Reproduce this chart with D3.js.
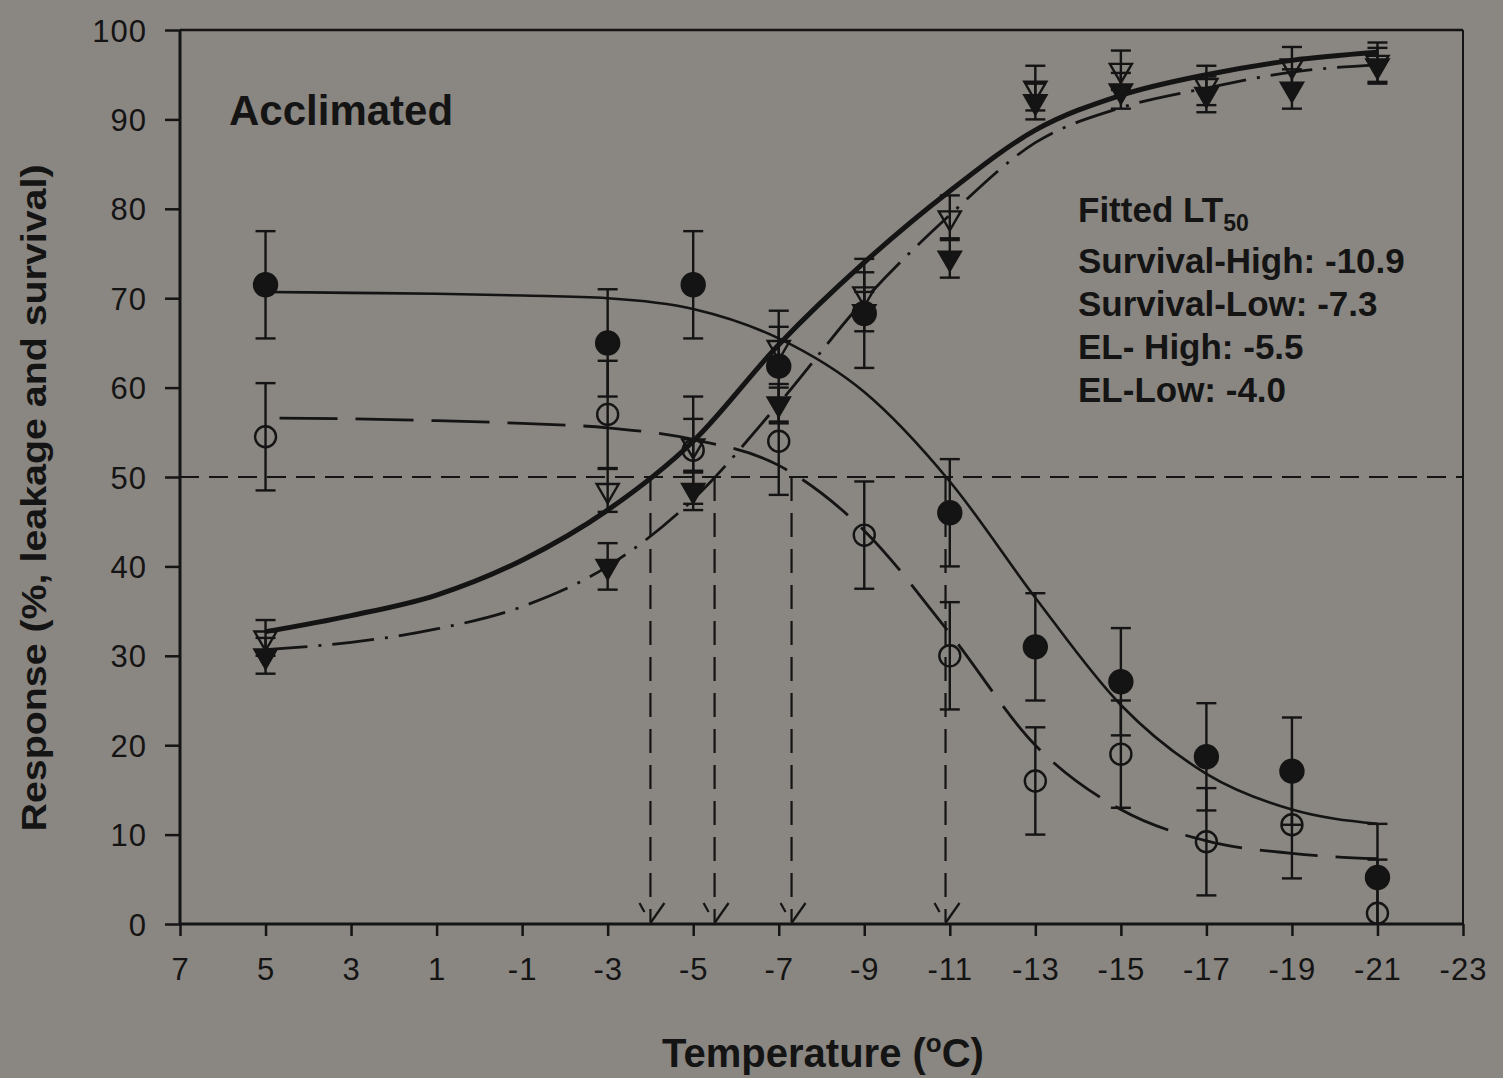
<!DOCTYPE html>
<html><head><meta charset="utf-8">
<script src="https://cdn.jsdelivr.net/npm/d3@7"></script>
<style>
html,body{margin:0;padding:0;background:#8a8681;}
svg{display:block;font-family:"Liberation Sans",Arial,sans-serif;}
</style></head><body>
<svg id="chart" width="1503" height="1078"></svg>
<script>
// ---- data ----
const temps = [5, -3, -5, -7, -9, -11, -13, -15, -17, -19, -21];
const survHigh    = [71.5, 65, 71.5, 62.4, 68.3, 46, 31, 27.1, 18.7, 17.1, 5.2];   // filled circles
const survHighErr = [6, 6, 6, 6.2, 6.1, 6, 6, 6, 6, 6, 6];
const survLow     = [54.5, 57, 53, 54, 43.5, 30, 16, 19, 9.2, 11.1, 1.2];         // open circles
const survLowErr  = [6, 6, 6, 6, 6, 6, 6, 6, 6, 6, 6];
const elLow       = [32, 48.5, 53.5, 64.5, 70.5, 79, 93.5, 95.5, 93.8, 96, 96.4];  // open triangles
const elLowErr    = [2, 2.4, 3, 2.3, 2.4, 2.5, 2.5, 2.2, 2.2, 2.1, 2.2];
const elHigh      = [30, 40, 48.5, 58.2, 68.5, 74.5, 92, 93.2, 92.8, 93.4, 96];   // filled triangles
const elHighErr   = [2, 2.6, 2.2, 2.2, 2.2, 2.2, 2, 2, 2, 2.2, 2];

// fitted curves
const fitTemps    = [5, 3, 1, -1, -3, -5, -7, -9, -11, -13, -15, -17, -19, -21];
const fitElLow    = [32.7, 34.5, 36.8, 40.7, 46.3, 54, 64.8, 74, 82, 88.8, 92.7, 95, 96.6, 97.5];
const fitElHigh   = [30.7, 31.5, 33, 35.5, 40, 47.5, 58.2, 69.8, 79.3, 87.4, 91.3, 93.5, 95.3, 96.1];
const fitSurvHigh = [70.7, 70.6, 70.5, 70.3, 70, 68.8, 65.5, 59.5, 49.5, 36.5, 24.5, 16.8, 12.8, 11.2];
const fitSurvLow  = [56.6, 56.5, 56.3, 56, 55.5, 54.2, 51.3, 44, 32.5, 20, 12.8, 9.3, 7.9, 7.3];

const lt50Values = [-4.0, -5.5, -7.3, -10.9];
const xTicks = [7, 5, 3, 1, -1, -3, -5, -7, -9, -11, -13, -15, -17, -19, -21, -23];
const yTicks = [0, 10, 20, 30, 40, 50, 60, 70, 80, 90, 100];
const annoLines = ["Survival-High: -10.9", "Survival-Low: -7.3", "EL- High: -5.5", "EL-Low: -4.0"];

// ---- drawing ----
const ink = "#141414";
const svg = d3.select("#chart");
const L = 180, R = 1463, T = 30, B = 924;
const x = d3.scaleLinear().domain([7, -23]).range([L, R]);
const y = d3.scaleLinear().domain([0, 100]).range([B, T]);

svg.append("rect").attr("width", 1503).attr("height", 1078).attr("fill", "#8a8681");

svg.append("defs").append("clipPath").attr("id", "plotclip")
  .append("rect").attr("x", L).attr("y", 0).attr("width", R - L + 20).attr("height", B);

// frame top/right
svg.append("line").attr("x1", L).attr("x2", R).attr("y1", T).attr("y2", T).attr("stroke", ink).attr("stroke-width", 2.5);
svg.append("line").attr("x1", R).attr("x2", R).attr("y1", T).attr("y2", B).attr("stroke", ink).attr("stroke-width", 2);

// axes
const fmt = d => String(d);
const yAxis = d3.axisLeft(y).tickValues(yTicks).tickSize(15).tickPadding(18).tickFormat(fmt);
const gy = svg.append("g").attr("transform", `translate(${L},0)`).call(yAxis);
const xAxis = d3.axisBottom(x).tickValues(xTicks).tickSize(12).tickPadding(22).tickFormat(fmt);
const gx = svg.append("g").attr("transform", `translate(0,${B})`).call(xAxis);
[gx, gy].forEach(g => {
  g.select(".domain").attr("stroke", ink).attr("stroke-width", 3);
  g.selectAll(".tick line").attr("stroke", ink).attr("stroke-width", 2.5);
  g.selectAll(".tick text").attr("fill", ink).attr("font-size", 31)
    .attr("font-family", "'Liberation Sans', Arial, sans-serif").attr("letter-spacing", 1);
});
gx.select(".domain").attr("d", `M${L},0H${R}`);
gy.select(".domain").attr("d", `M0,${B}V${T}`);
gy.selectAll(".tick text").attr("dy", "0.36em");

const plot = svg.append("g").attr("clip-path", "url(#plotclip)");

// 50% reference line
plot.append("line").attr("x1", L).attr("x2", R).attr("y1", y(50)).attr("y2", y(50))
  .attr("stroke", ink).attr("stroke-width", 2.2).attr("stroke-dasharray", "19,10");

// LT50 drop lines with arrows
lt50Values.forEach(v => {
  const px = x(v);
  plot.append("line").attr("x1", px).attr("x2", px).attr("y1", y(50)).attr("y2", y(0) - 2)
    .attr("stroke", ink).attr("stroke-width", 2.2).attr("stroke-dasharray", "24,12");
  plot.append("path").attr("d", `M${px + 14},${y(0) - 21}L${px},${y(0) - 1}`)
    .attr("stroke", ink).attr("stroke-width", 2.2).attr("fill", "none");
  plot.append("path").attr("d", `M${px - 11},${y(0) - 21}L${px - 6},${y(0) - 12}`)
    .attr("stroke", ink).attr("stroke-width", 2.2).attr("fill", "none");
});

// fitted curves
const lineGen = vals => d3.line().x((d, i) => x(fitTemps[i])).y(d => y(d)).curve(d3.curveMonotoneX)(vals);
plot.append("path").attr("d", lineGen(fitSurvHigh)).attr("fill", "none").attr("stroke", ink).attr("stroke-width", 2.6);
plot.append("path").attr("d", lineGen(fitSurvLow)).attr("fill", "none").attr("stroke", ink).attr("stroke-width", 2.8)
  .attr("stroke-dasharray", "58,18").attr("stroke-dashoffset", -14);
plot.append("path").attr("d", lineGen(fitElHigh)).attr("fill", "none").attr("stroke", ink).attr("stroke-width", 2.8)
  .attr("stroke-dasharray", "42,11,3,11");
plot.append("path").attr("d", lineGen(fitElLow)).attr("fill", "none").attr("stroke", ink).attr("stroke-width", 5);

// error bars
function errorBars(vals, errs) {
  const g = plot.append("g").attr("stroke", ink).attr("stroke-width", 2.4);
  vals.forEach((v, i) => {
    const px = x(temps[i]);
    g.append("line").attr("x1", px).attr("x2", px).attr("y1", y(v - errs[i])).attr("y2", y(v + errs[i]));
    [v - errs[i], v + errs[i]].forEach(e => {
      g.append("line").attr("x1", px - 10).attr("x2", px + 10).attr("y1", y(e)).attr("y2", y(e));
    });
  });
}
errorBars(survHigh, survHighErr);
errorBars(survLow, survLowErr);
errorBars(elLow, elLowErr);
errorBars(elHigh, elHighErr);

// markers
const tri = d3.symbol().type(d3.symbolTriangle).size(210);
function triangles(vals, filled) {
  plot.append("g").selectAll("path").data(vals).join("path")
    .attr("d", tri)
    .attr("transform", (d, i) => `translate(${x(temps[i])},${y(d)}) rotate(180)`)
    .attr("fill", filled ? ink : "none").attr("stroke", ink).attr("stroke-width", 2.4);
}
function circles(vals, filled) {
  plot.append("g").selectAll("circle").data(vals).join("circle")
    .attr("cx", (d, i) => x(temps[i])).attr("cy", d => y(d)).attr("r", filled ? 11.5 : 10.5)
    .attr("fill", filled ? ink : "none").attr("stroke", ink).attr("stroke-width", 2.4);
}
triangles(elLow, false);
triangles(elHigh, true);
circles(survLow, false);
circles(survHigh, true);

// texts
svg.append("text").attr("x", 229).attr("y", 125).attr("font-size", 42).attr("font-weight", "bold")
  .attr("fill", ink).text("Acclimated");

const anno = svg.append("text").attr("x", 1078).attr("y", 222).attr("font-size", 35).attr("font-weight", "bold").attr("fill", ink);
anno.append("tspan").text("Fitted LT");
anno.append("tspan").attr("font-size", 23).attr("dy", 9).text("50");
annoLines.forEach((t, i) => {
  svg.append("text").attr("x", 1078).attr("y", 273 + i * 43).attr("font-size", 35).attr("font-weight", "bold")
    .attr("fill", ink).text(t);
});

const xt = svg.append("text").attr("x", 823).attr("y", 1067).attr("text-anchor", "middle")
  .attr("font-size", 40).attr("font-weight", "bold").attr("fill", ink);
xt.append("tspan").text("Temperature (");
xt.append("tspan").attr("font-size", 26).attr("dy", -15).text("o");
xt.append("tspan").attr("dy", 15).text("C)");

svg.append("text").attr("transform", "translate(46,498) rotate(-90)").attr("text-anchor", "middle")
  .attr("font-size", 35).attr("font-weight", "bold").attr("fill", ink)
  .attr("textLength", 667).attr("lengthAdjust", "spacingAndGlyphs")
  .text("Response (%, leakage and survival)");
</script>
</body></html>
